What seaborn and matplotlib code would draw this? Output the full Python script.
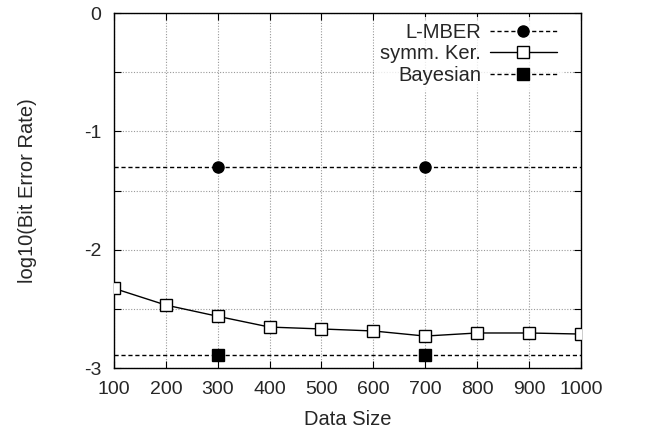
import seaborn as sns
import matplotlib.pyplot as plt
from matplotlib.lines import Line2D
import pandas as pd

# data
sizes = [100, 200, 300, 400, 500, 600, 700, 800, 900, 1000]
symm_ker = [-2.327, -2.468, -2.563, -2.654, -2.670, -2.687, -2.730, -2.704, -2.704, -2.713]
lmber = [-1.301] * 10
bayesian = [-2.886] * 10
marked_sizes = [300, 700]
lmber_marked = [-1.301, -1.301]
bayes_marked = [-2.886, -2.886]

sns.set_theme(style="ticks")
plt.rcParams['font.family'] = ['Liberation Sans', 'DejaVu Sans']

fig = plt.figure(figsize=(6.54, 4.41), dpi=100)
ax = fig.add_axes([0.1743, 0.1655, 0.7137, 0.805])

df = pd.DataFrame({"size": sizes, "symm": symm_ker, "lmber": lmber, "bayes": bayesian})
mk = pd.DataFrame({"size": marked_sizes, "lmber": lmber_marked, "bayes": bayes_marked})

dash = (0, (3, 2))

# L-MBER: dashed line over full range, markers at two sizes
sns.lineplot(data=df, x="size", y="lmber", ax=ax, color="black", lw=1.0,
             linestyle=dash, zorder=3)
ax.plot(mk["size"], mk["lmber"], "o", color="black", ms=8, zorder=4)

# symm. Ker.
sns.lineplot(data=df, x="size", y="symm", ax=ax, color="black", lw=1.0,
             marker="s", markersize=8, markerfacecolor="white",
             markeredgecolor="black", markeredgewidth=1.0, zorder=4)

# Bayesian
sns.lineplot(data=df, x="size", y="bayes", ax=ax, color="black", lw=1.0,
             linestyle=dash, zorder=3)
ax.plot(mk["size"], mk["bayes"], "s", color="black", ms=8, zorder=4)

ax.set_xlim(100, 1000)
ax.set_ylim(-3, 0)
ax.set_xticks(sizes)
ax.set_yticks([0, -1, -2, -3])
ax.set_yticks([-0.5, -1.5, -2.5], minor=True)
ax.set_yticklabels(["0", "-1", "-2", "-3"])
ax.grid(True, which="both", color="#999999", linestyle=(0, (1, 1.5)), lw=0.8)
ax.tick_params(which="both", direction="in", top=True, right=True,
               labelsize=14, length=5, width=0.8, color="black", pad=9)
for s in ax.spines.values():
    s.set_color("black")
    s.set_linewidth(1.0)

ax.set_xlabel("Data Size", fontsize=14.5, labelpad=9)
ax.set_ylabel("log10(Bit Error Rate)", fontsize=14.5, labelpad=34)

handles = [
    Line2D([], [], color="black", lw=1.0, linestyle=dash, marker="o", ms=8),
    Line2D([], [], color="black", lw=1.0, marker="s", ms=8, markerfacecolor="white"),
    Line2D([], [], color="black", lw=1.0, linestyle=dash, marker="s", ms=8),
]
leg = ax.legend(handles, ["L-MBER", "symm. Ker.", "Bayesian"], loc="upper right",
                bbox_to_anchor=(0.97, 1.0), frameon=True, markerfirst=False,
                numpoints=1, handlelength=3.3, handletextpad=0.45,
                labelspacing=0.12, fontsize=14.5, borderaxespad=0.2,
                borderpad=0.3)
leg.get_frame().set_facecolor("white")
leg.get_frame().set_edgecolor("none")
leg.get_frame().set_boxstyle("square", pad=0)

fig.savefig("out.png", dpi=100)
